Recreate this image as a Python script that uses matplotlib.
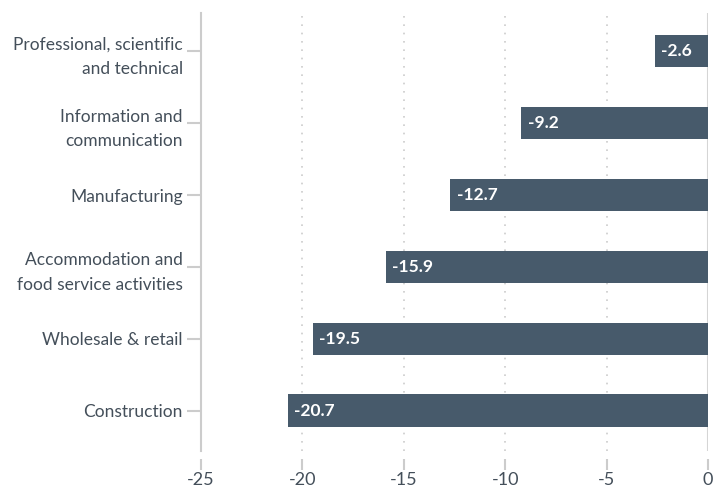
import matplotlib.pyplot as plt
import numpy as np

categories = ['Construction', 'Wholesale & retail',
              'Accommodation and\nfood service activities', 'Manufacturing',
              'Information and\ncommunication', 'Professional, scientific\nand technical']
values = [-20.7, -19.5, -15.9, -12.7, -9.2, -2.6]
xticks = [-25, -20, -15, -10, -5, 0]

plt.rcParams['font.family'] = ['Lato', 'DejaVu Sans']

fig = plt.figure(figsize=(7.24, 4.9), dpi=100)
ax = fig.add_axes([0.2776, 0.08, 0.7004, 0.893])

y = np.arange(len(categories))
bars = ax.barh(y, values, height=0.45, color='#475a6b', zorder=3)

for bar, v in zip(bars, values):
    ax.text(v + 0.3, bar.get_y() + bar.get_height() / 2, f'{v}',
            color='white', fontsize=12.5, fontweight='bold', va='center', ha='left', zorder=4)

# dotted grid lines, solid line at zero
for t in [-20, -15, -10, -5]:
    ax.axvline(t, color='#cccccc', linestyle=(0, (1, 4)), linewidth=1.2, zorder=1)
ax.axvline(0, color='#d5d5d5', linewidth=1.5, zorder=2)

for s in ['top', 'right', 'bottom']:
    ax.spines[s].set_visible(False)
ax.spines['left'].set_color('#cccccc')
ax.spines['left'].set_linewidth(1.5)
ax.spines['bottom'].set_position(('outward', 6))

ax.set_xlim(-25, 0)
ax.set_ylim(-0.56, 5.53)
ax.set_yticks(y)
ax.set_yticklabels(categories, fontsize=12.5, color='#444f5a', linespacing=1.65)
ax.set_xticks(xticks)
ax.set_xticklabels([str(t) for t in xticks])

ax.tick_params(axis='y', length=10, width=1.5, color='#cccccc', pad=3)
ax.tick_params(axis='x', length=8, width=1.5, color='#cccccc', pad=1,
               labelsize=13, labelcolor='#444f5a')

plt.savefig('out.png', dpi=100)
